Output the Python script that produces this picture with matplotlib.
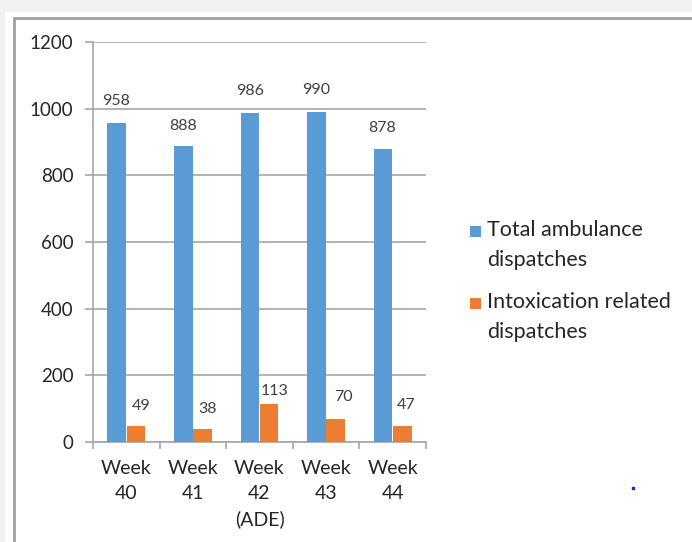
import numpy as np
import matplotlib.pyplot as plt
from matplotlib.patches import Rectangle
from matplotlib.lines import Line2D

# Weekly ambulance dispatch counts
weeks = ['Week\n40', 'Week\n41', 'Week\n42\n(ADE)', 'Week\n43', 'Week\n44']
total_dispatches = [958, 888, 986, 990, 878]
intox_dispatches = [49, 38, 113, 70, 47]
series_names = ['Total ambulance\ndispatches', 'Intoxication related\ndispatches']
y_ticks = [0, 200, 400, 600, 800, 1000, 1200]

BLUE = '#5B9BD5'
ORANGE = '#ED7D31'
GRID = '#A6A6A6'
TEXT = '#262626'

plt.rcParams['font.family'] = ['Lato', 'DejaVu Sans']

W, H = 692, 542
fig = plt.figure(figsize=(W / 100, H / 100), dpi=100, facecolor='#F0F1F3')

# white panel and grey frame around the chart
fig.add_artist(Rectangle((5 / W, 0), 1, 1 - 12 / H, transform=fig.transFigure,
                         facecolor='white', edgecolor='none', zorder=-2))
fig.add_artist(Rectangle((14 / W, -0.05), 1, 1.05 - 17.5 / H, transform=fig.transFigure,
                         facecolor='none', edgecolor='#A0A0A0', lw=2, zorder=-1))

ax = fig.add_axes([93 / W, 100 / H, 333 / W, 400 / H])
ax.set_facecolor('white')

x = np.arange(len(weeks))
bw = 0.28
off = 0.145
b1 = ax.bar(x - off, total_dispatches, bw, color=BLUE, zorder=3)
b2 = ax.bar(x + off, intox_dispatches, bw, color=ORANGE, zorder=3)

# value labels above each bar (offsets in pixels)
blue_dx = [-1, 0, 0, 0, -1]
blue_dy = [22, 20, 22, 22, 21]
orange_dx = [5, 5, 5, 8, 4]
orange_dy = [20, 20, 13, 22, 21]
for rect, v, dx, dy in zip(b1, total_dispatches, blue_dx, blue_dy):
    ax.annotate(str(v), (rect.get_x() + rect.get_width() / 2, v),
                xytext=(dx * 0.72, dy * 0.72), textcoords='offset points',
                ha='center', va='center', fontsize=11.5, color='#404040')
for rect, v, dx, dy in zip(b2, intox_dispatches, orange_dx, orange_dy):
    ax.annotate(str(v), (rect.get_x() + rect.get_width() / 2, v),
                xytext=(dx * 0.72, dy * 0.72), textcoords='offset points',
                ha='center', va='center', fontsize=11.5, color='#404040')

ax.set_xlim(-0.5, len(weeks) - 0.5)
ax.set_ylim(0, 1200)
ax.set_yticks(y_ticks)
ax.set_yticklabels([str(t) for t in y_ticks])
ax.yaxis.grid(True, color=GRID, lw=1.2, zorder=0)
ax.tick_params(axis='y', length=6, width=1.2, color=GRID, pad=8,
               labelsize=13.5, labelcolor=TEXT)

# category boundaries as tick marks, labels at centres
ax.set_xticks(np.arange(len(weeks) + 1) - 0.5)
ax.set_xticklabels([])
ax.tick_params(axis='x', which='major', length=5, width=1.2, color=GRID)
ax.set_xticks(x, minor=True)
ax.set_xticklabels(weeks, minor=True, linespacing=1.55)
ax.tick_params(axis='x', which='minor', length=0, pad=13,
               labelsize=14, labelcolor=TEXT)

for side in ['top', 'right']:
    ax.spines[side].set_visible(False)
for side in ['left', 'bottom']:
    ax.spines[side].set_color(GRID)
    ax.spines[side].set_linewidth(1.2)

# legend: square key aligned with the first text line of each entry
legend_rows = [(series_names[0], BLUE, 228), (series_names[1], ORANGE, 300)]
for label, color, ytop in legend_rows:
    fig.add_artist(Rectangle((470 / W, 1 - (ytop + 8.5) / H), 11 / W, 11 / H,
                             transform=fig.transFigure, facecolor=color,
                             edgecolor='none'))
    fig.text(487 / W, 1 - (ytop - 8) / H, label, ha='left', va='top',
             fontsize=15.5, color=TEXT, linespacing=1.65)

# small blue speck near the lower right
fig.add_artist(Line2D([633 / W], [1 - 488 / H], marker='s', markersize=2,
                      color='#2020E0', lw=0, transform=fig.transFigure))

fig.savefig('out.png', dpi=100, facecolor=fig.get_facecolor())
